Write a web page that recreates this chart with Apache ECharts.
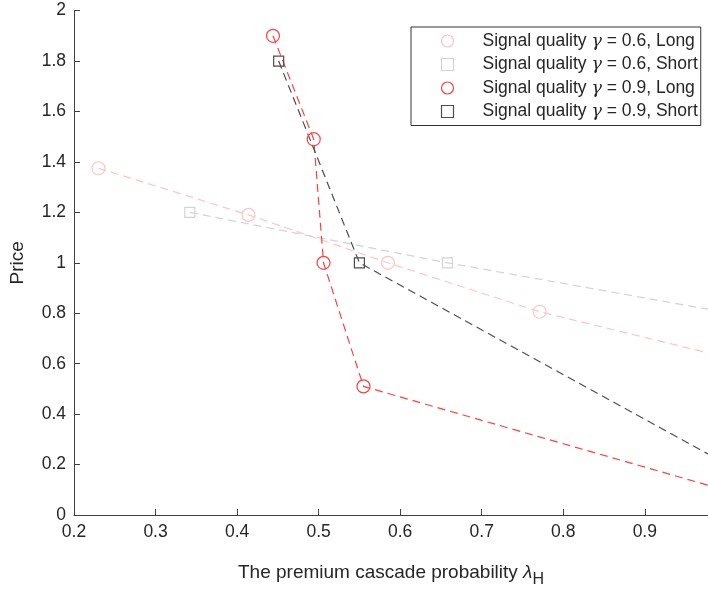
<!DOCTYPE html>
<html lang="en">
<head>
    <meta charset="UTF-8">
    <title>Price vs cascade probability</title>
    <script type="text/javascript" src="https://cdn.jsdelivr.net/npm/echarts@6/dist/echarts.min.js"></script>
    <style>
        html, body { margin: 0; padding: 0; background: #fff; }
        #chart { width: 708px; height: 593px; }
    </style>
</head>
<body>
<div id="chart"></div>
<script>
    // x axis range and ticks
    var xMin = 0.2;
    var xMax = 0.9775;
    var yMin = 0;
    var yMax = 2;

    // gamma = 0.6, Long (last point only carries the line to the edge)
    var long06X = [0.230, 0.414, 0.585, 0.771, 0.9775];
    var long06Y = [1.375, 1.190, 1.000, 0.806, 0.643];
    // gamma = 0.6, Short
    var short06X = [0.342, 0.658, 0.9775];
    var short06Y = [1.200, 1.000, 0.816];
    // gamma = 0.9, Long
    var long09X = [0.444, 0.494, 0.506, 0.555, 0.9775];
    var long09Y = [1.900, 1.490, 1.000, 0.510, 0.118];
    // gamma = 0.9, Short
    var short09X = [0.451, 0.550, 0.9775];
    var short09Y = [1.800, 1.000, 0.242];

    var gammas = ['0.6', '0.6', '0.9', '0.9'];
    var sides = ['Long', 'Short', 'Long', 'Short'];
    var names = [];
    for (var n = 0; n < 4; n++) {
        names.push('Signal quality γ = ' + gammas[n] + ', ' + sides[n]);
    }
    var colors = ['#ffc4c4', '#d4d4d4', '#ff4040', '#4d4d4d'];
    var symbols = ['circle', 'rect', 'circle', 'rect'];
    var symbolSizes = [13, 10, 13, 10];

    var FONT = 'Liberation Sans, Arial, Helvetica, sans-serif';
    var TXT = '#262626';

    function pairs(xs, ys) {
        var out = [];
        for (var i = 0; i < xs.length; i++) {
            var item = {value: [xs[i], ys[i]]};
            // the edge point is only there for the line
            if (i == xs.length - 1) item.symbol = 'none';
            out.push(item);
        }
        return out;
    }

    var allData = [
        pairs(long06X, long06Y),
        pairs(short06X, short06Y),
        pairs(long09X, long09Y),
        pairs(short09X, short09Y)
    ];

    var series = [];
    for (var k = 0; k < 4; k++) {
        series.push({
            name: names[k],
            type: 'line',
            data: allData[k],
            symbol: symbols[k],
            symbolSize: symbolSizes[k],
            showAllSymbol: true,
            clip: true,
            animation: false,
            lineStyle: {color: colors[k], width: 1.2, type: [8, 5]},
            itemStyle: {color: 'none', borderColor: colors[k], borderWidth: 1.2},
            emphasis: {disabled: true}
        });
    }

    var legendData = [];
    for (var j = 0; j < 4; j++) {
        legendData.push({
            name: names[j],
            icon: symbols[j],
            itemStyle: {color: 'none', borderColor: colors[j], borderWidth: 1.2}
        });
    }

    var option = {
        backgroundColor: '#fff',
        animation: false,
        grid: {left: 73.6, right: 0, top: 10.6, bottom: 75, containLabel: false},
        legend: {
            data: legendData,
            orient: 'vertical',
            left: 411,
            top: 27,
            padding: [4, 3, 4, 28],
            itemWidth: 12,
            itemHeight: 12,
            itemGap: 3.5,
            borderColor: '#333',
            borderWidth: 1,
            backgroundColor: '#fff',
            selectedMode: false,
            formatter: function (name) {
                var parts = name.split('γ');
                return '{a|' + parts[0] + '}{g|γ}{a|' + parts[1] + '}';
            },
            textStyle: {
                fontFamily: FONT, fontSize: 17.5, color: TXT, lineHeight: 20,
                padding: [0, 0, 0, 24],
                rich: {
                    a: {fontFamily: FONT, fontSize: 17.5, color: TXT, lineHeight: 20},
                    g: {fontFamily: 'DejaVu Serif, serif', fontSize: 17.5, color: TXT, fontStyle: 'italic', lineHeight: 20}
                }
            }
        },
        xAxis: {
            type: 'value',
            min: xMin,
            max: xMax,
            interval: 0.1,
            name: '{a|The premium cascade probability }{l|λ}{s|H}',
            nameLocation: 'middle',
            nameGap: 42,
            nameTextStyle: {
                fontFamily: FONT,
                rich: {
                    a: {fontFamily: FONT, fontSize: 19, color: TXT},
                    l: {fontFamily: FONT, fontSize: 19, color: TXT, fontStyle: 'italic'},
                    s: {fontFamily: FONT, fontSize: 16, color: TXT, padding: [15, 0, 0, 0]}
                }
            },
            splitLine: {show: false},
            axisLine: {lineStyle: {color: '#404040', width: 1}},
            axisTick: {inside: true, length: 6, lineStyle: {color: '#404040'}},
            axisLabel: {
                fontFamily: FONT, fontSize: 17.5, color: TXT, margin: 8,
                showMaxLabel: false,
                formatter: function (v) { return (Math.round(v * 10) / 10).toString(); }
            }
        },
        yAxis: {
            type: 'value',
            min: yMin,
            max: yMax,
            interval: 0.2,
            name: 'Price',
            nameLocation: 'middle',
            nameGap: 47,
            nameTextStyle: {fontFamily: FONT, fontSize: 19, color: TXT},
            splitLine: {show: false},
            axisLine: {show: true, lineStyle: {color: '#404040', width: 1}},
            axisTick: {show: true, inside: true, length: 6, lineStyle: {color: '#404040'}},
            axisLabel: {
                fontFamily: FONT, fontSize: 17.5, color: TXT, margin: 8,
                formatter: function (v) { return (Math.round(v * 10) / 10).toString(); }
            }
        },
        series: series
    };

    var myChart = echarts.init(document.getElementById('chart'));
    myChart.setOption(option);
</script>
</body>
</html>
